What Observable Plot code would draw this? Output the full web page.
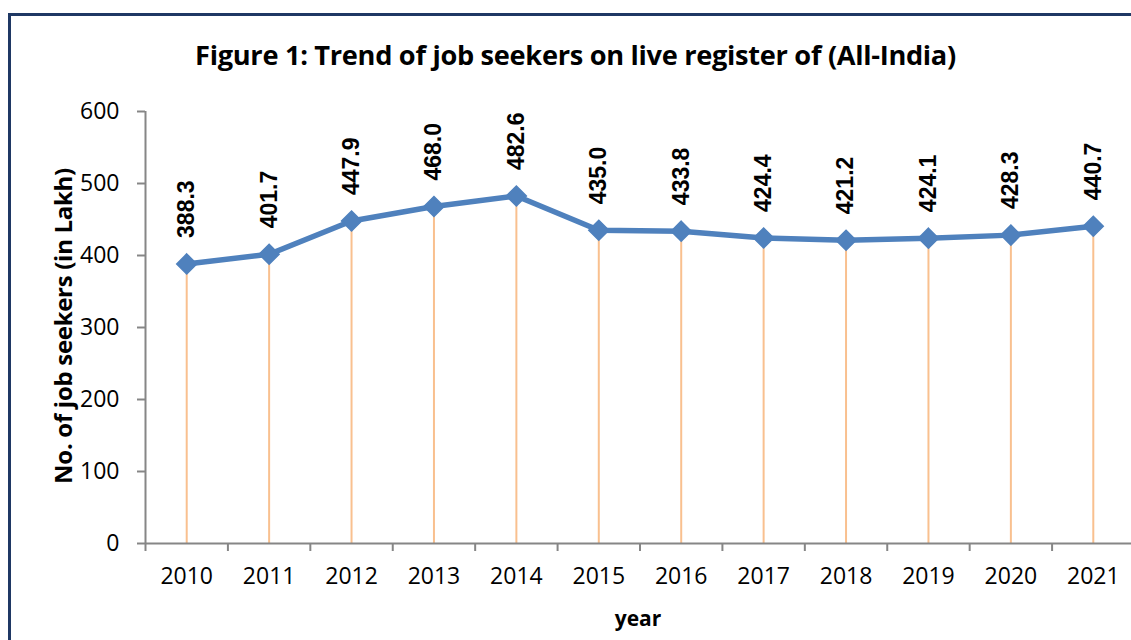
<!DOCTYPE html>
<html>
<head>
<meta charset="utf-8">
<script src="https://cdn.jsdelivr.net/npm/d3@7"></script>
<script src="https://cdn.jsdelivr.net/npm/@observablehq/plot@0.6"></script>
<style>
  html, body { margin: 0; padding: 0; background: #fff; overflow: hidden; }
  #wrap { position: relative; width: 1131px; height: 640px; overflow: hidden; }
  #border { position: absolute; left: 8px; top: 13px; width: 1200px; height: 700px; border: 3px solid #1F3864; box-sizing: border-box; }
  #title { position: absolute; left: 0; width: 1151px; top: 54px; transform: translateY(-50%); text-align: center; font-family: "Open Sans", sans-serif; font-weight: 700; font-size: 27.2px; color: #000; letter-spacing: -0.3px; white-space: nowrap; }
  #ytitle { position: absolute; left: 62px; top: 326px; transform: translate(-50%, -50%) rotate(-90deg); white-space: nowrap; font-family: "Open Sans", sans-serif; font-weight: 700; font-size: 24px; color: #000; letter-spacing: -0.3px; }
  #xtitle { position: absolute; left: 638px; top: 618px; transform: translate(-50%, -50%); font-family: "Open Sans", sans-serif; font-weight: 700; font-size: 21px; color: #000; }
  #chart { position: absolute; left: 0; top: 0; }
  #chart svg g[aria-label="y-axis tick label"] text,
  #chart svg g[aria-label="x-axis tick label"] text { font-size: 23px; }
</style>
</head>
<body>
<div id="wrap">
  <div id="border"></div>
  <div id="chart"></div>
  <div id="title">Figure 1: Trend of job seekers on live register of (All-India)</div>
  <div id="ytitle">No. of job seekers (in Lakh)</div>
  <div id="xtitle">year</div>
</div>
<script>
const years = [2010, 2011, 2012, 2013, 2014, 2015, 2016, 2017, 2018, 2019, 2020, 2021];
const seekers = [388.3, 401.7, 447.9, 468.0, 482.6, 435.0, 433.8, 424.4, 421.2, 424.1, 428.3, 440.7];
const yTicks = [0, 100, 200, 300, 400, 500, 600];

const data = years.map((y, i) => ({year: y, value: seekers[i]}));
const xDomain = [years[0] - 0.5, years[years.length - 1] + 0.5];
const boundaries = d3.range(years.length + 1).map(i => xDomain[0] + i);

const plot = Plot.plot({
  width: 1131,
  height: 640,
  marginTop: 111,
  marginBottom: 97,
  marginLeft: 145,
  marginRight: 0,
  style: {background: "transparent", overflow: "visible", fontSize: "23px", fontFamily: "'Open Sans', sans-serif", color: "#000"},
  x: {type: "linear", domain: xDomain, range: [145, 1134]},
  y: {domain: [0, 600]},
  marks: [
    Plot.ruleX(data, {x: "year", y1: 0, y2: "value", stroke: "#F9C08F", strokeWidth: 2}),
    Plot.ruleY([0], {stroke: "#868686", strokeWidth: 2}),
    Plot.ruleX([xDomain[0]], {stroke: "#868686", strokeWidth: 2}),
    Plot.axisY({ticks: yTicks, tickSize: 8, tickPadding: 18, stroke: "#868686", strokeWidth: 2, tickFormat: d => String(d), label: null, fontSize: 23, fill: "#000"}),
    Plot.axisX({ticks: boundaries, tickSize: 8, tickFormat: () => "", stroke: "#868686", strokeWidth: 2, label: null}),
    Plot.axisX({ticks: years, tickSize: 0, tickPadding: 24, tickFormat: d => String(d), label: null, fontSize: 23, fill: "#000"}),
    Plot.line(data, {x: "year", y: "value", stroke: "#4F81BD", strokeWidth: 5.5}),
    Plot.dot(data, {x: "year", y: "value", symbol: "diamond2", r: 9, fill: "#4F81BD", stroke: "#4F81BD"}),
    Plot.text(data, {x: "year", y: "value", text: d => d.value.toFixed(1), rotate: -90, textAnchor: "start", dy: -26, fontSize: 23, fontWeight: "bold", fontFamily: "Liberation Sans", fill: "#000"})
  ]
});
document.getElementById("chart").appendChild(plot);
</script>
</body>
</html>
